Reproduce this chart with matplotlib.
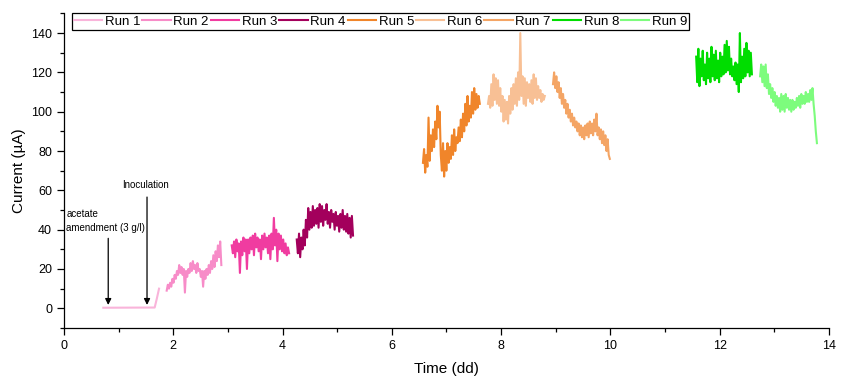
import numpy as np
import matplotlib.pyplot as plt
from matplotlib.ticker import MultipleLocator

plt.rcParams['font.family'] = ['Liberation Sans', 'DejaVu Sans']

# Current logged during each run (uA), times in days
run1_t = [0.72, 1.66, 1.70, 1.74]
run1_i = [0.3, 0.4, 5, 10]

run2_span = (1.88, 2.88)
run2_i = [9, 12, 10, 13, 11, 15, 13, 17, 15, 19, 17, 22, 18, 21, 17, 20, 8, 19, 16, 20,
          18, 23, 19, 24, 20, 22, 18, 23, 19, 20, 16, 19, 11, 19, 15, 20, 17, 22, 18, 24,
          20, 27, 21, 29, 24, 32, 26, 34, 22]

run3_span = (3.07, 4.12)
run3_i = [32, 28, 34, 26, 35, 29, 33, 18, 34, 27, 36, 29, 35, 20, 35, 28, 36, 30, 37, 27,
          38, 31, 36, 29, 35, 25, 37, 30, 38, 31, 36, 28, 37, 25, 38, 30, 46, 32, 40, 24,
          38, 30, 37, 29, 35, 28, 33, 27, 31, 28]

run4_span = (4.26, 5.29)
run4_i = [35, 28, 38, 26, 36, 30, 40, 32, 45, 36, 51, 40, 49, 41, 52, 42, 50, 43, 51, 41,
          53, 44, 52, 42, 50, 45, 53, 43, 49, 41, 50, 44, 48, 40, 49, 42, 47, 39, 48, 41,
          50, 40, 47, 39, 48, 38, 46, 36, 47, 37]

run5_span = (6.57, 7.61)
run5_i = [74, 81, 69, 78, 72, 97, 75, 88, 80, 91, 82, 95, 86, 103, 92, 100, 78, 70, 84, 67,
          80, 70, 84, 74, 82, 76, 88, 78, 91, 80, 87, 84, 92, 85, 96, 87, 99, 90, 104, 93,
          108, 95, 103, 97, 110, 99, 112, 101, 109, 102, 108, 104]

run6_span = (7.76, 8.80)
run6_i = [104, 108, 102, 114, 103, 119, 106, 117, 104, 116, 103, 112, 100, 108, 95, 106,
          96, 105, 94, 108, 99, 112, 101, 114, 104, 117, 103, 120, 106, 140, 108, 118, 104,
          117, 103, 115, 107, 114, 105, 116, 104, 119, 107, 117, 106, 113, 107, 111, 105,
          109, 106, 108]

run7_span = (8.95, 9.99)
run7_i = [114, 120, 112, 118, 110, 115, 107, 112, 104, 109, 102, 106, 99, 104, 97, 101, 95,
          99, 93, 97, 92, 95, 90, 94, 88, 93, 87, 92, 86, 93, 88, 94, 87, 95, 89, 94, 88, 96,
          90, 99, 88, 92, 86, 91, 84, 90, 83, 88, 80, 86, 78, 76]

run8_span = (11.57, 12.59)
run8_i = [128, 115, 132, 113, 127, 118, 131, 116, 124, 114, 130, 117, 127, 115, 133, 118,
          129, 116, 131, 117, 126, 115, 130, 118, 128, 119, 134, 120, 136, 121, 133, 119,
          127, 118, 123, 116, 125, 114, 124, 110, 140, 115, 128, 117, 132, 118, 135, 120,
          131, 118, 130, 119]

run9_span = (12.74, 13.78)
run9_i = [118, 124, 115, 123, 113, 124, 112, 119, 109, 114, 107, 112, 105, 110, 103, 108,
          102, 107, 100, 109, 101, 108, 100, 109, 102, 107, 101, 106, 100, 106, 101, 105,
          102, 107, 103, 108, 102, 109, 104, 108, 104, 110, 105, 109, 105, 111, 106, 112,
          104, 98, 90, 84]

labels = ['Run 1', 'Run 2', 'Run 3', 'Run 4', 'Run 5', 'Run 6', 'Run 7', 'Run 8', 'Run 9']
colors = ['#f9b4da', '#f78cc8', '#f03ca0', '#a3005c', '#f0852a',
          '#f8c095', '#f4a565', '#00dd00', '#7dfc7d']

runs = [(run1_t, run1_i)]
for span, vals in [(run2_span, run2_i), (run3_span, run3_i), (run4_span, run4_i),
                   (run5_span, run5_i), (run6_span, run6_i), (run7_span, run7_i),
                   (run8_span, run8_i), (run9_span, run9_i)]:
    t = np.linspace(span[0], span[1], len(vals))
    runs.append((t, vals))

fig = plt.figure(figsize=(8.45, 3.76), dpi=100)
ax = fig.add_axes([0.0757, 0.1277, 0.9053, 0.8367])

for (t, i), lab, c in zip(runs, labels, colors):
    ax.plot(t, i, color=c, lw=1.5, label=lab)

ax.set_xlim(0, 14)
ax.set_ylim(-10, 150)
ax.xaxis.set_major_locator(MultipleLocator(2))
ax.xaxis.set_minor_locator(MultipleLocator(1))
ax.yaxis.set_major_locator(MultipleLocator(20))
ax.yaxis.set_minor_locator(MultipleLocator(10))
ax.set_yticks([0, 20, 40, 60, 80, 100, 120, 140])
ax.tick_params(which='major', direction='out', length=5, width=0.9, labelsize=9)
ax.tick_params(which='minor', direction='out', length=3, width=0.9)
for s in ['top', 'right']:
    ax.spines[s].set_visible(False)
for s in ['left', 'bottom']:
    ax.spines[s].set_linewidth(0.9)

ax.set_xlabel('Time (dd)', fontsize=11, labelpad=7)
ax.set_ylabel('Current (µA)', fontsize=11, labelpad=4)

# event markers
ax.annotate('', xy=(0.81, 0.3), xytext=(0.81, 37),
            arrowprops=dict(arrowstyle='-|>', color='black', lw=0.9, mutation_scale=9))
ax.text(0.04, 38.5, 'acetate\namendment (3 g/l)', fontsize=7, va='bottom', ha='left',
        linespacing=1.5)
ax.annotate('', xy=(1.52, 0.3), xytext=(1.52, 58),
            arrowprops=dict(arrowstyle='-|>', color='black', lw=0.9, mutation_scale=9))
ax.text(1.5, 60, 'Inoculation', fontsize=7, va='bottom', ha='center')

leg = ax.legend(loc='upper left', bbox_to_anchor=(0.0105, 1.0), borderaxespad=0,
                ncol=9, fontsize=9.5, handlelength=2.15, handletextpad=0.2,
                columnspacing=0.15, borderpad=0.15, fancybox=False, framealpha=1)
leg.get_frame().set_edgecolor('black')
leg.get_frame().set_linewidth(0.9)
for h in leg.get_lines():
    h.set_linewidth(1.5)

fig.savefig('out.png', dpi=100)
